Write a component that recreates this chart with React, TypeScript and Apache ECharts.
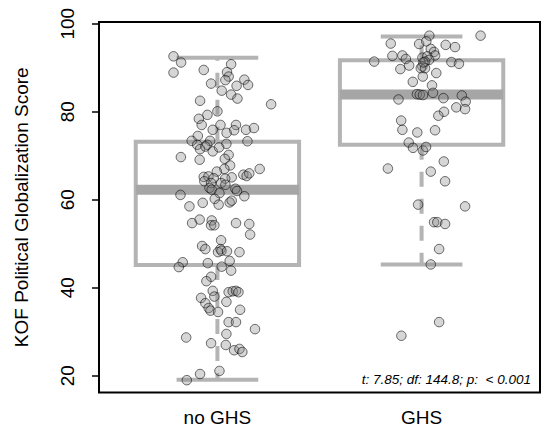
import React, { useEffect, useRef } from "react";
import * as echarts from "echarts";

const categories = ["no GHS", "GHS"];
const yTicks = [20, 40, 60, 80, 100];
// [lower whisker, Q1, median, Q3, upper whisker]
const noGhsBox = [19.1, 45.2, 62.3, 73.2, 92.3];
const ghsBox = [45.3, 72.5, 83.9, 91.7, 97.1];
const testLabel = "t: 7.85; df: 144.8; p:  < 0.001";

// [horizontal jitter, KOF score]
const noGhsPoints = [
  [-0.215, 92.6], [-0.178, 91.2], [-0.215, 88.9], [-0.067, 89.5], [0.067, 90.8],
  [0.047, 89.0], [0.055, 88.0], [0.039, 87.2], [0.132, 87.3], [0.15, 86.1],
  [-0.031, 86.4], [0.094, 85.9], [0.021, 84.8], [0.067, 83.9], [0.098, 83.0],
  [-0.085, 82.5], [0.263, 81.7], [0.0, 80.1], [-0.049, 79.3], [-0.091, 78.4],
  [-0.077, 77.0], [0.015, 77.0], [0.091, 77.0], [-0.023, 75.9], [0.082, 75.8],
  [0.045, 75.2], [0.14, 75.9], [0.179, 76.3], [-0.096, 74.5], [-0.126, 73.4],
  [0.147, 73.3], [-0.099, 72.5], [-0.036, 73.4], [-0.05, 72.5], [0.044, 72.7],
  [-0.085, 71.5], [-0.059, 72.1], [-0.023, 71.0], [0.008, 71.9], [0.055, 70.2],
  [-0.179, 69.7], [-0.087, 69.1], [0.036, 69.3], [0.062, 67.8], [0.034, 67.0],
  [-0.003, 66.4], [0.207, 67.0], [0.127, 65.7], [0.143, 65.4], [0.156, 66.0],
  [0.07, 65.1], [0.038, 64.8], [-0.067, 65.2], [-0.044, 65.3], [-0.018, 64.9],
  [-0.064, 64.2], [-0.031, 63.8], [0.018, 63.8], [0.039, 63.4], [-0.039, 62.7],
  [-0.028, 62.3], [0.088, 62.5], [0.096, 62.0], [0.01, 61.5], [-0.181, 61.1],
  [0.132, 60.8], [-0.137, 58.5], [-0.072, 59.3], [-0.013, 60.2], [0.006, 58.9],
  [0.06, 59.4], [0.07, 59.8], [-0.124, 54.7], [-0.087, 55.5], [-0.028, 55.3],
  [-0.031, 54.2], [-0.015, 54.2], [0.091, 54.7], [0.156, 54.5], [0.16, 52.1],
  [0.018, 50.8], [-0.075, 49.5], [-0.059, 48.8], [0.015, 48.8], [0.003, 48.1],
  [0.02, 48.4], [0.047, 48.3], [0.108, 48.1], [-0.17, 45.8], [-0.189, 44.7],
  [-0.047, 45.6], [0.021, 44.8], [0.06, 46.1], [0.067, 43.9], [-0.031, 42.5],
  [-0.054, 41.5], [-0.023, 39.3], [-0.015, 38.0], [0.055, 39.0], [0.075, 39.2],
  [0.091, 39.3], [0.103, 39.0], [-0.08, 37.7], [-0.059, 36.5], [0.044, 36.8],
  [-0.043, 35.4], [-0.034, 34.8], [0.003, 34.5], [0.111, 35.0], [0.055, 32.2],
  [0.091, 32.2], [0.184, 30.6], [-0.153, 28.7], [0.044, 29.5], [-0.031, 27.4],
  [0.041, 27.0], [0.082, 25.8], [0.108, 26.1], [0.122, 25.4], [-0.085, 20.4],
  [0.01, 21.1], [-0.15, 19.0],
];

const ghsPoints = [
  [0.038, 97.3], [0.289, 97.3], [-0.151, 95.5], [-0.012, 95.4], [0.023, 96.0],
  [0.118, 95.2], [0.164, 94.7], [0.045, 94.3], [0.061, 93.6], [0.066, 92.8],
  [-0.143, 92.7], [-0.094, 92.8], [-0.077, 92.0], [0.004, 92.3], [0.028, 92.6],
  [0.037, 91.8], [0.017, 91.4], [-0.232, 91.4], [0.146, 91.3], [0.183, 90.9],
  [-0.061, 90.5], [-0.104, 89.7], [0.004, 90.3], [-0.004, 89.9], [0.017, 89.9],
  [0.072, 88.8], [0.006, 88.0], [-0.043, 86.8], [0.051, 86.0], [0.056, 84.3],
  [-0.023, 84.0], [-0.009, 83.9], [0.007, 83.8], [-0.113, 82.8], [0.107, 83.1],
  [0.197, 83.7], [0.216, 82.3], [0.17, 81.0], [0.213, 80.6], [0.11, 80.0],
  [0.082, 79.1], [-0.1, 78.0], [-0.094, 75.9], [0.066, 75.8], [-0.021, 75.3],
  [-0.063, 73.0], [-0.042, 71.8], [0.007, 71.2], [0.022, 72.0], [0.109, 68.7],
  [-0.165, 67.1], [0.045, 66.4], [0.115, 64.2], [-0.017, 58.9], [0.213, 58.5],
  [0.061, 54.9], [0.077, 54.9], [0.115, 54.5], [0.086, 48.8], [0.045, 45.3],
  [0.086, 32.2], [-0.099, 29.1], [0.009, 91.2],
];

const FONT = '"Liberation Sans", Arial, sans-serif';

export default function App() {
  const ref = useRef<HTMLDivElement>(null);
  useEffect(() => {
    if (!ref.current) return;
    const chart = echarts.init(ref.current, undefined, { renderer: "svg" });
    const boxData = [
      [1, ...noGhsBox],
      [2, ...ghsBox],
    ];
    const pts = [
      ...noGhsPoints.map(([j, v]) => [1 + j, v]),
      ...ghsPoints.map(([j, v]) => [2 + j, v]),
    ];
    const boxColor = "#b4b4b4";
    chart.setOption({
      animation: false,
      backgroundColor: "#ffffff",
      textStyle: { fontFamily: FONT },
      grid: {
        left: 99,
        right: 10,
        top: 22,
        height: 370.5,
        show: true,
        borderColor: "#000000",
        borderWidth: 2,
        backgroundColor: "transparent",
        containLabel: false,
        outerBoundsMode: "none",
      },
      xAxis: {
        type: "value",
        min: 0.42,
        max: 2.58,
        axisLine: { show: false },
        axisTick: { show: false },
        splitLine: { show: false },
        axisLabel: {
          customValues: [1, 2],
          formatter: (v: number) => categories[Math.round(v) - 1] ?? "",
          fontSize: 19,
          color: "#000000",
          fontFamily: FONT,
          margin: 15,
        },
      },
      yAxis: {
        type: "value",
        min: 16.2,
        max: 100.4,
        name: "KOF Political Globalization Score",
        nameLocation: "middle",
        nameRotate: 90,
        nameGap: 68,
        nameTextStyle: { fontSize: 19, color: "#000000", fontFamily: FONT },
        axisLine: { show: false },
        splitLine: { show: false },
        axisTick: {
          show: true,
          customValues: yTicks,
          length: 7,
          lineStyle: { color: "#000000", width: 1.5 },
        },
        axisLabel: {
          customValues: yTicks,
          rotate: 90,
          fontSize: 19,
          color: "#000000",
          fontFamily: FONT,
          margin: 22,
        },
      },
      series: [
        {
          type: "custom",
          data: boxData,
          encode: { x: 0, y: [1, 2, 3, 4, 5] },
          z: 1,
          renderItem: (params: any, api: any) => {
            const c = api.value(0);
            const lo = api.value(1);
            const q1 = api.value(2);
            const med = api.value(3);
            const q3 = api.value(4);
            const hi = api.value(5);
            const [xl, yq3] = api.coord([c - 0.4, q3]);
            const [xr, yq1] = api.coord([c + 0.4, q1]);
            const [xc, ylo] = api.coord([c, lo]);
            const yhi = api.coord([c, hi])[1];
            const ymed = api.coord([c, med])[1];
            const cl = api.coord([c - 0.2, lo])[0];
            const cr = api.coord([c + 0.2, lo])[0];
            const ls = { stroke: boxColor, lineWidth: 4, fill: null };
            const dash = { ...ls, lineDash: [15, 12] };
            return {
              type: "group",
              children: [
                { type: "line", shape: { x1: xc, y1: yq1, x2: xc, y2: ylo }, style: dash },
                { type: "line", shape: { x1: xc, y1: yq3, x2: xc, y2: yhi }, style: dash },
                { type: "line", shape: { x1: cl, y1: ylo, x2: cr, y2: ylo }, style: ls },
                { type: "line", shape: { x1: cl, y1: yhi, x2: cr, y2: yhi }, style: ls },
                {
                  type: "rect",
                  shape: { x: xl, y: yq3, width: xr - xl, height: yq1 - yq3 },
                  style: { stroke: boxColor, lineWidth: 4, fill: "none" },
                },
                {
                  type: "line",
                  shape: { x1: xl, y1: ymed, x2: xr, y2: ymed },
                  style: { stroke: "#a6a6a6", lineWidth: 10 },
                },
              ],
            };
          },
        },
        {
          type: "scatter",
          data: pts,
          z: 2,
          symbol: "circle",
          symbolSize: 9.5,
          itemStyle: {
            color: "rgba(128,128,128,0.4)",
            borderColor: "rgba(0,0,0,0.7)",
            borderWidth: 1,
          },
        },
      ],
      graphic: [
        {
          type: "text",
          right: 19,
          top: 372,
          style: {
            text: testLabel,
            font: `italic 13.5px ${FONT}`,
            fill: "#000000",
          },
        },
      ],
    });
    return () => chart.dispose();
  }, []);
  return (
    <div
      ref={ref}
      style={{ position: "fixed", left: 0, top: 0, width: 550, height: 445, background: "#fff" }}
    />
  );
}
